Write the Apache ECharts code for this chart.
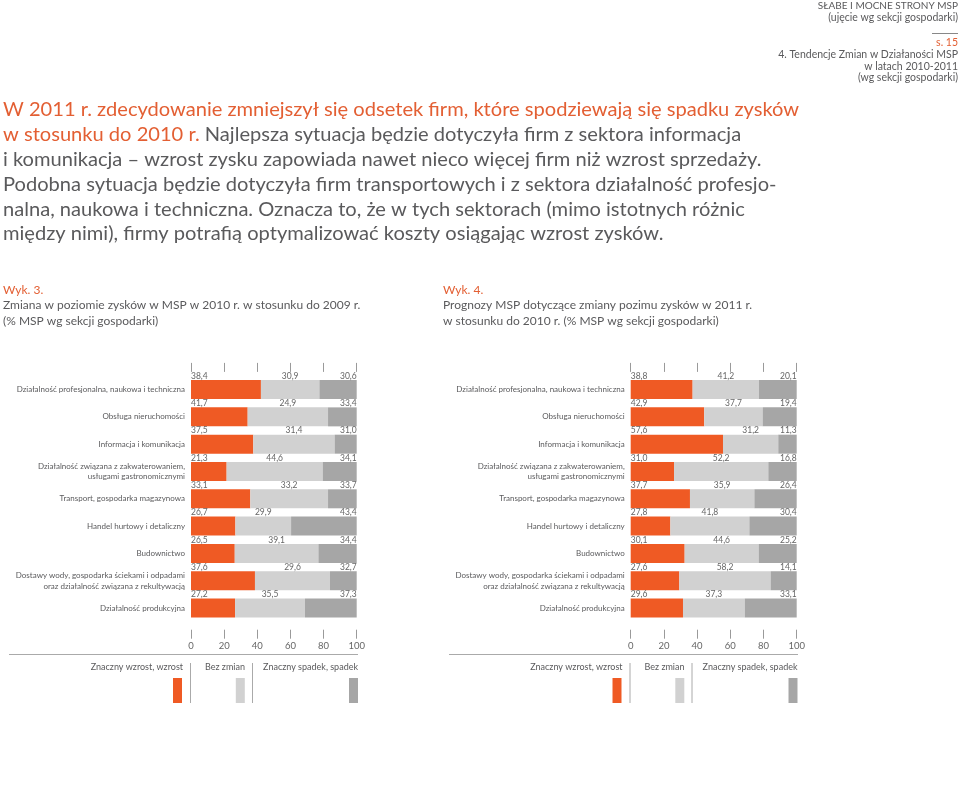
<!DOCTYPE html>
<html><head><meta charset="utf-8">
<script src="https://cdn.jsdelivr.net/npm/echarts@6/dist/echarts.min.js"></script>
<style>html,body{margin:0;padding:0;background:#fff}#c{width:960px;height:807px}</style>
</head><body><div id="c"></div>
<script>
// ---------- DATA ----------
const categories = [
  'Działalność profesjonalna, naukowa i techniczna',
  'Obsługa nieruchomości',
  'Informacja i komunikacja',
  'Działalność związana z zakwaterowaniem,\nusługami gastronomicznymi',
  'Transport, gospodarka magazynowa',
  'Handel hurtowy i detaliczny',
  'Budownictwo',
  'Dostawy wody, gospodarka ściekami i odpadami\noraz działalność związana z rekultywacją',
  'Działalność produkcyjna'
];
const xTicks = [0, 20, 40, 60, 80, 100];
const seriesNames = ['Znaczny wzrost, wzrost', 'Bez zmian', 'Znaczny spadek, spadek'];

// Wyk. 3 - printed values
const leftUpLabel   = [38.4, 41.7, 37.5, 21.3, 33.1, 26.7, 26.5, 37.6, 27.2];
const leftSameLabel = [30.9, 24.9, 31.4, 44.6, 33.2, 29.9, 39.1, 29.6, 35.5];
const leftDownLabel = [30.6, 33.4, 31.0, 34.1, 33.7, 43.4, 34.4, 32.7, 37.3];
// Wyk. 3 - bar lengths as drawn in the picture
const leftUpBar   = [42.2, 34.2, 37.6, 21.5, 35.8, 26.8, 26.4, 38.6, 26.6];
const leftSameBar = [35.3, 48.5, 49.1, 58.0, 46.9, 33.6, 50.5, 45.3, 42.2];
const leftDownBar = [22.5, 17.3, 13.3, 20.5, 17.3, 39.6, 23.1, 16.1, 31.2];

// Wyk. 4 - printed values
const rightUpLabel   = [38.8, 42.9, 57.6, 31.0, 37.7, 27.8, 30.1, 27.6, 29.6];
const rightSameLabel = [41.2, 37.7, 31.2, 52.2, 35.9, 41.8, 44.6, 58.2, 37.3];
const rightDownLabel = [20.1, 19.4, 11.3, 16.8, 26.4, 30.4, 25.2, 14.1, 33.1];
// Wyk. 4 - bar lengths as drawn in the picture
const rightUpBar   = [37.3, 44.3, 55.6, 26.1, 35.7, 23.9, 32.5, 29.3, 31.5];
const rightSameBar = [40.0, 35.2, 33.3, 56.8, 38.8, 47.6, 44.6, 55.0, 37.2];
const rightDownBar = [22.7, 20.5, 11.1, 17.1, 25.5, 28.5, 22.9, 15.7, 31.3];

// ---------- STYLE ----------
const FONT = 'Lato';
const TXT = '#5a5a5c';
const ORANGE_TXT = '#e35f33';
const COLORS = ['#ef5a24', '#d1d1d1', '#a6a6a6'];
const TICK = '#9a9a9a';

const fmt = v => v.toFixed(1).replace('.', ',');

const chart = echarts.init(document.getElementById('c'), null, {renderer: 'canvas'});

const gridDefs = [{left: 191, width: 165.7}, {left: 630.7, width: 166}];
const grids = gridDefs.map(g => ({left: g.left, width: g.width, top: 375.9, height: 245.8, containLabel: false}));

const xAxes = [];
const yAxes = [];
gridDefs.forEach((g, i) => {
  xAxes.push({
    gridIndex: i, type: 'value', position: 'bottom', min: xTicks[0], max: xTicks[xTicks.length - 1],
    interval: xTicks[1] - xTicks[0], offset: 8,
    axisLine: {show: false}, splitLine: {show: false},
    axisTick: {show: true, length: 9, lineStyle: {color: TICK, width: 1}},
    axisLabel: {show: true, margin: 11, fontSize: 9.5, color: '#666', fontFamily: FONT}
  });
  xAxes.push({
    gridIndex: i, type: 'value', position: 'top', min: xTicks[0], max: xTicks[xTicks.length - 1],
    interval: xTicks[1] - xTicks[0], offset: 4,
    axisLine: {show: false}, splitLine: {show: false},
    axisTick: {show: true, length: 9, lineStyle: {color: TICK, width: 1}},
    axisLabel: {show: false}
  });
  yAxes.push({
    gridIndex: i, type: 'category', inverse: true, data: categories,
    axisLine: {show: false}, axisTick: {show: false}, splitLine: {show: false},
    axisLabel: {margin: 6, fontSize: 8, lineHeight: 10.5, color: TXT, fontFamily: FONT, align: 'right'}
  });
});

function mk(gridIdx, k, barVals, labelVals) {
  const pos = [[0, -4], ['50%', -4], ['100%', -4]][k];
  const align = ['left', 'center', 'right'][k];
  return {
    type: 'bar', name: seriesNames[k], xAxisIndex: gridIdx * 2, yAxisIndex: gridIdx,
    stack: 'g' + gridIdx, barWidth: 19, data: barVals, silent: true,
    itemStyle: {color: COLORS[k]},
    label: {show: true, position: pos, align: align, verticalAlign: 'middle',
      fontSize: 8.5, color: '#666', fontFamily: FONT,
      formatter: p => fmt(labelVals[p.dataIndex])}
  };
}

const series = [
  mk(0, 0, leftUpBar, leftUpLabel), mk(0, 1, leftSameBar, leftSameLabel), mk(0, 2, leftDownBar, leftDownLabel),
  mk(1, 0, rightUpBar, rightUpLabel), mk(1, 1, rightSameBar, rightSameLabel), mk(1, 2, rightDownBar, rightDownLabel)
];

// ---------- TEXT / DECOR ----------
const g = [];
function t(x, y, text, opts) {
  g.push(Object.assign({type: 'text', x: x, y: y, silent: true,
    style: Object.assign({text: text, fill: TXT, font: (opts && opts.font) || ('11px ' + FONT),
      textAlign: (opts && opts.align) || 'left', textVerticalAlign: 'middle'}, (opts && opts.style) || {})}));
}
// header right
t(958, 6, 'SŁABE I MOCNE STRONY MSP', {align: 'right', font: '10px ' + FONT});
t(958, 18, '(ujęcie wg sekcji gospodarki)', {align: 'right', font: '10.5px ' + FONT});
g.push({type: 'line', silent: true, shape: {x1: 932, y1: 33.5, x2: 958, y2: 33.5}, style: {stroke: '#888', lineWidth: 1}});
t(958, 43, 's. 15', {align: 'right', font: '10.5px ' + FONT, style: {fill: ORANGE_TXT}});
t(958, 55, '4. Tendencje Zmian w Działaności MSP', {align: 'right', font: '10.5px ' + FONT});
t(958, 66.5, 'w latach 2010-2011', {align: 'right', font: '10.5px ' + FONT});
t(958, 78, '(wg sekcji gospodarki)', {align: 'right', font: '10.5px ' + FONT});

// body
const BF = '20.1px ' + FONT;
const bodyLines = [
  'i komunikacja – wzrost zysku zapowiada nawet nieco więcej firm niż wzrost sprzedaży.',
  'Podobna sytuacja będzie dotyczyła firm transportowych i z sektora działalność profesjo-',
  'nalna, naukowa i techniczna. Oznacza to, że w tych sektorach (mimo istotnych różnic',
  'między nimi), firmy potrafią optymalizować koszty osiągając wzrost zysków.'
];
t(3, 110, 'W 2011 r. zdecydowanie zmniejszył się odsetek firm, które spodziewają się spadku zysków', {font: BF, style: {fill: ORANGE_TXT}});
g.push({type: 'text', x: 3, y: 135, silent: true, style: {
  text: '{o|w stosunku do 2010 r.}{n| Najlepsza sytuacja będzie dotyczyła firm z sektora informacja}',
  font: BF, textVerticalAlign: 'middle',
  rich: {o: {fill: ORANGE_TXT, font: BF}, n: {fill: TXT, font: BF}}}});
bodyLines.forEach((s, i) => t(3, 160 + i * 24.6, s, {font: BF}));

// captions
const CF = '12px ' + FONT;
t(3, 290, 'Wyk. 3.', {font: CF, style: {fill: ORANGE_TXT}});
t(3, 305.5, 'Zmiana w poziomie zysków w MSP w 2010 r. w stosunku do 2009 r.', {font: CF});
t(3, 321, '(% MSP wg sekcji gospodarki)', {font: CF});
t(443, 290, 'Wyk. 4.', {font: CF, style: {fill: ORANGE_TXT}});
t(443, 305.5, 'Prognozy MSP dotyczące zmiany pozimu zysków w 2011 r.', {font: CF});
t(443, 321, 'w stosunku do 2010 r. (% MSP wg sekcji gospodarki)', {font: CF});

// legends
const LF = '9px ' + FONT;
[{dx: 0, l: 9, r: 358}, {dx: 439.5, l: 449, r: 798}].forEach(L => {
  const d = L.dx;
  g.push({type: 'line', silent: true, shape: {x1: L.l, y1: 654.5, x2: L.r, y2: 654.5}, style: {stroke: '#aaa', lineWidth: 1}});
  g.push({type: 'line', silent: true, shape: {x1: 190.5 + d, y1: 663, x2: 190.5 + d, y2: 703}, style: {stroke: '#aaa', lineWidth: 1}});
  g.push({type: 'line', silent: true, shape: {x1: 252.5 + d, y1: 663, x2: 252.5 + d, y2: 703}, style: {stroke: '#aaa', lineWidth: 1}});
  t(183 + d, 667, seriesNames[0], {align: 'right', font: LF});
  t(245 + d, 667, seriesNames[1], {align: 'right', font: LF});
  t(358 + d, 667, seriesNames[2], {align: 'right', font: LF});
  g.push({type: 'rect', silent: true, shape: {x: 173 + d, y: 678, width: 9, height: 25}, style: {fill: COLORS[0]}});
  g.push({type: 'rect', silent: true, shape: {x: 235.8 + d, y: 678, width: 9, height: 25}, style: {fill: COLORS[1]}});
  g.push({type: 'rect', silent: true, shape: {x: 349 + d, y: 678, width: 9, height: 25}, style: {fill: COLORS[2]}});
});

chart.setOption({
  backgroundColor: '#fff',
  animation: false,
  textStyle: {fontFamily: FONT},
  grid: grids,
  xAxis: xAxes,
  yAxis: yAxes,
  series: series,
  graphic: g
});
</script>
</body></html>
